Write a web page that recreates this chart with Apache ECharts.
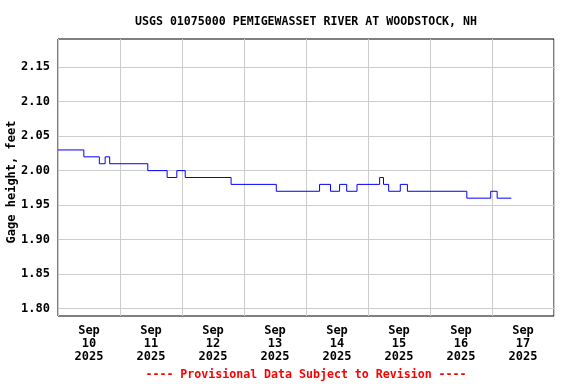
<!DOCTYPE html>
<html>
<head>
<meta charset="utf-8">
<script src="https://cdn.jsdelivr.net/npm/echarts@6/dist/echarts.min.js"></script>
<style>html,body{margin:0;padding:0;background:#fff;}#c{width:576px;height:384px;}</style>
</head>
<body>
<div id="c"></div>
<script>
// Step change times (UTC) and gage height values (ft) starting at each time
var changeTimes = [
  '2025-09-10T00:00','2025-09-10T10:00','2025-09-10T16:00','2025-09-10T18:15','2025-09-10T20:00',
  '2025-09-11T10:45','2025-09-11T18:15','2025-09-11T22:00','2025-09-12T01:15','2025-09-12T19:00',
  '2025-09-13T12:30','2025-09-14T05:15','2025-09-14T09:30','2025-09-14T13:00','2025-09-14T15:45',
  '2025-09-14T19:45','2025-09-15T04:30','2025-09-15T06:00','2025-09-15T08:00','2025-09-15T12:30',
  '2025-09-15T15:15','2025-09-16T14:15','2025-09-16T23:30','2025-09-17T02:00','2025-09-17T07:30'
];
var gageHeight = [
  2.03, 2.02, 2.01, 2.02, 2.01,
  2.00, 1.99, 2.00, 1.99, 1.98,
  1.97, 1.98, 1.97, 1.98, 1.97,
  1.98, 1.99, 1.98, 1.97, 1.98,
  1.97, 1.96, 1.97, 1.96, 1.96
];
var dayLabels = ['Sep\n10\n2025','Sep\n11\n2025','Sep\n12\n2025','Sep\n13\n2025','Sep\n14\n2025','Sep\n15\n2025','Sep\n16\n2025','Sep\n17\n2025'];
var yTicks = [1.80, 1.85, 1.90, 1.95, 2.00, 2.05, 2.10, 2.15];
var startTime = '2025-09-10T00:00';
var titleText = 'USGS 01075000 PEMIGEWASSET RIVER AT WOODSTOCK, NH';
var footText = '---- Provisional Data Subject to Revision ----';
var yName = 'Gage height, feet';

var t0 = Date.parse(startTime + 'Z');
function hoursOf(s){ return (Date.parse(s + 'Z') - t0) / 3600000; }
var seriesData = changeTimes.map(function(t, i){ return [hoursOf(t), gageHeight[i]]; });

var FONT = '"DejaVu Sans Mono", monospace';
var chart = echarts.init(document.getElementById('c'), null, {renderer: 'canvas'});
chart.setOption({
  animation: false,
  backgroundColor: '#fff',
  graphic: [{
    type: 'text', x: 306, y: 22,
    style: {text: titleText, align: 'center', verticalAlign: 'middle', fill: '#000', font: 'bold 11.6px "DejaVu Sans Mono", monospace'}
  }, {
    type: 'text', x: 306, y: 369,
    style: {text: footText, align: 'center', fill: '#ff0000', font: 'bold 11.6px "DejaVu Sans Mono", monospace'}
  }, {
    type: 'text', x: 11.5, y: 182, rotation: Math.PI / 2,
    style: {text: yName, align: 'center', verticalAlign: 'middle', fill: '#000', font: 'bold 12px "DejaVu Sans Mono", monospace'}
  }],
  grid: {left: 58, right: 22, top: 39, bottom: 68, show: true, borderColor: '#000', borderWidth: 1,
    backgroundColor: 'transparent', outerBoundsMode: 'none', containLabel: false},
  xAxis: [{
    type: 'value', min: 0, max: 192, interval: 24,
    axisLine: {show: false}, axisTick: {show: false}, axisLabel: {show: false},
    splitLine: {show: true, lineStyle: {color: '#cccccc', width: 1}}
  }, {
    type: 'value', min: 0, max: 192, interval: 12, position: 'bottom',
    axisLine: {show: false}, axisTick: {show: false}, splitLine: {show: false},
    axisLabel: {
      show: true, margin: 8, lineHeight: 13, showMinLabel: true, showMaxLabel: false,
      fontFamily: FONT, fontSize: 12, fontWeight: 'bold', color: '#000',
      formatter: function(v){ return (v % 24 === 12) ? dayLabels[(v - 12) / 24] : ''; }
    }
  }],
  yAxis: {
    type: 'value', min: 1.789, max: 2.191,
    axisLine: {show: false},
    axisTick: {show: false, customValues: yTicks},
    axisLabel: {customValues: yTicks, margin: 8, fontFamily: FONT, fontSize: 12, fontWeight: 'bold', color: '#000',
      formatter: function(v){ return v.toFixed(2); }},
    splitLine: {show: true, lineStyle: {color: '#cccccc', width: 1}}
  },
  series: [{
    type: 'line', xAxisIndex: 0, step: 'end', data: seriesData,
    showSymbol: false, symbol: 'none',
    lineStyle: {color: '#0000ff', width: 1}
  }]
});
</script>
</body>
</html>
